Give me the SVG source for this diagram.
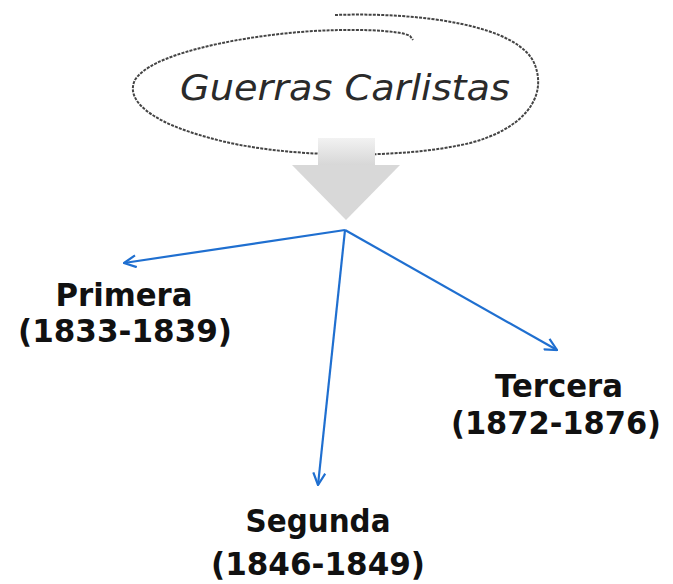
<svg xmlns="http://www.w3.org/2000/svg" width="673" height="584" viewBox="0 0 673 584">
<style>
.lbl{font-family:"DejaVu Sans",Verdana,sans-serif;font-weight:bold;font-size:32px;fill:#111;text-anchor:middle}
.conn{stroke:#1f6fd0;stroke-width:2.2;fill:none}
</style>
<defs>
<marker id="arr" viewBox="0 0 14 14" markerWidth="14" markerHeight="14" refX="13" refY="7" orient="auto" markerUnits="userSpaceOnUse">
<path d="M1,1 L13,7 L1,13" fill="none" stroke="#1f6fd0" stroke-width="2.2"/>
</marker>
<linearGradient id="fade" x1="0" y1="0" x2="0" y2="1">
<stop offset="0" stop-color="#f2f2f2"/>
<stop offset="1" stop-color="#d6d6d6"/>
</linearGradient>
</defs>
<rect width="673" height="584" fill="#fff"/>
<g id="title">
<path d="M335,15 C420,12 520,25 535,65 C548,100 520,130 470,143 C400,160 280,158 210,138 C150,122 125,100 135,80 C150,55 230,38 300,32 C350,28 400,30 410,36 L413,40" fill="none" stroke="#444" stroke-width="2" stroke-dasharray="3 1.2"/>
<text x="345" y="100" font-family="DejaVu Sans, sans-serif" font-style="italic" font-weight="300" font-size="36" fill="#2a2a2a" text-anchor="middle" textLength="330" lengthAdjust="spacingAndGlyphs">Guerras Carlistas</text>
</g>
<g id="bigarrow">
<rect x="318" y="138" width="57" height="28" fill="url(#fade)"/>
<polygon points="292,165 400,165 346,220" fill="#d8d8d8"/>
</g>
<g id="connectors">
<line class="conn" x1="345" y1="230" x2="124" y2="263" marker-end="url(#arr)"/>
<line class="conn" x1="345" y1="230" x2="318" y2="485" marker-end="url(#arr)"/>
<line class="conn" x1="345" y1="230" x2="557" y2="350" marker-end="url(#arr)"/>
</g>
<g id="primera">
<text class="lbl" x="124" y="306" textLength="137" lengthAdjust="spacingAndGlyphs">Primera</text>
<text class="lbl" x="125" y="342" textLength="214" lengthAdjust="spacingAndGlyphs">(1833-1839)</text>
</g>
<g id="tercera">
<text class="lbl" x="559" y="397" textLength="128" lengthAdjust="spacingAndGlyphs">Tercera</text>
<text class="lbl" x="556" y="434" textLength="210" lengthAdjust="spacingAndGlyphs">(1872-1876)</text>
</g>
<g id="segunda">
<text class="lbl" x="318" y="532" textLength="145" lengthAdjust="spacingAndGlyphs">Segunda</text>
<text class="lbl" x="318" y="575" textLength="214" lengthAdjust="spacingAndGlyphs">(1846-1849)</text>
</g>
</svg>
